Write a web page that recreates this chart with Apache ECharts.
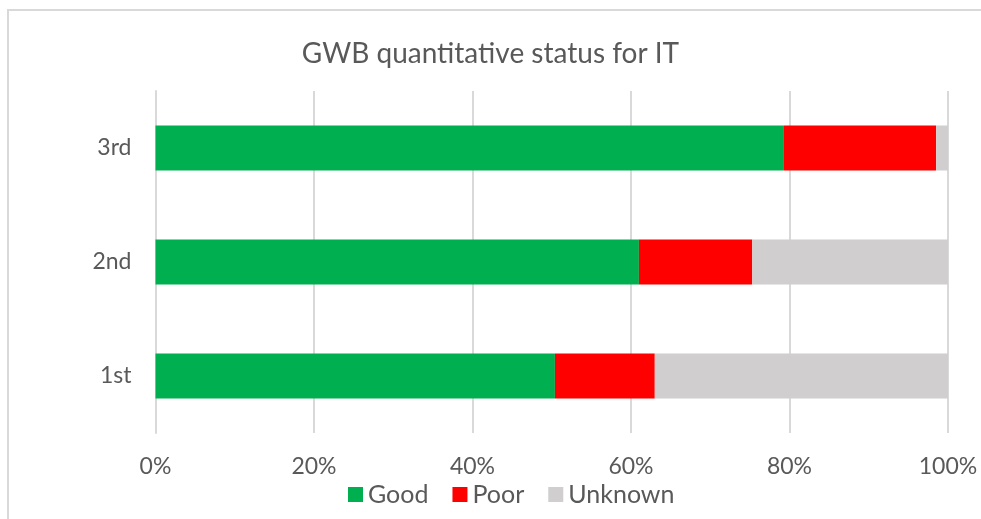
<!DOCTYPE html>
<html>
<head>
<meta charset="utf-8">
<script src="https://cdn.jsdelivr.net/npm/echarts@6/dist/echarts.min.js"></script>
<style>
  html, body { margin: 0; padding: 0; background: #fff; }
  #chart { width: 981px; height: 519px; }
</style>
</head>
<body>
<div id="chart"></div>
<script>
// categories bottom -> top
var categories = ['1st', '2nd', '3rd']
// shares in percent
var good = [50.4, 61.0, 79.3]
var poor = [12.6, 14.3, 19.2]
var unknown = [37.0, 24.7, 1.5]

var seriesNames = ['Good', 'Poor', 'Unknown']
var seriesColors = ['#00B050', '#FF0000', '#D0CECE']
var seriesData = [good, poor, unknown]

var txt = '#595959'
var font = 'Lato'

var myChart = echarts.init(document.getElementById('chart'))
var option = {
    animation: false,
    title: {
        text: 'GWB quantitative status for IT',
        left: 'center',
        top: 35,
        textStyle: { fontFamily: font, fontSize: 28, fontWeight: 'normal', color: txt }
    },
    graphic: [{
        type: 'rect',
        shape: { x: 8, y: 10, width: 1000, height: 600 },
        style: { fill: 'none', stroke: '#D9D9D9', lineWidth: 2 },
        silent: true
    }],
    legend: {
        bottom: 7,
        left: 343,
        itemWidth: 15,
        itemHeight: 15,
        itemGap: 24,
        icon: 'rect',
        textStyle: { fontFamily: font, fontSize: 25, color: txt },
        data: seriesNames
    },
    grid: { left: 155.5, right: 33, top: 91, bottom: 86 },
    xAxis: {
        type: 'value',
        min: 0,
        max: 100,
        interval: 20,
        axisLine: { show: false },
        axisTick: { show: false },
        splitLine: { lineStyle: { color: '#D9D9D9', width: 2 } },
        axisLabel: {
            formatter: '{value}%',
            margin: 22,
            fontFamily: font, fontSize: 23, color: txt
        }
    },
    yAxis: {
        type: 'category',
        data: categories,
        axisLine: { lineStyle: { color: '#D9D9D9', width: 2 } },
        axisTick: { show: false },
        axisLabel: { margin: 24, fontFamily: font, fontSize: 23, color: txt }
    },
    series: seriesNames.map(function (name, i) {
        return {
            name: name,
            type: 'bar',
            stack: 'total',
            barWidth: 45,
            itemStyle: { color: seriesColors[i] },
            data: seriesData[i]
        }
    })
}
option && myChart.setOption(option)
</script>
</body>
</html>
